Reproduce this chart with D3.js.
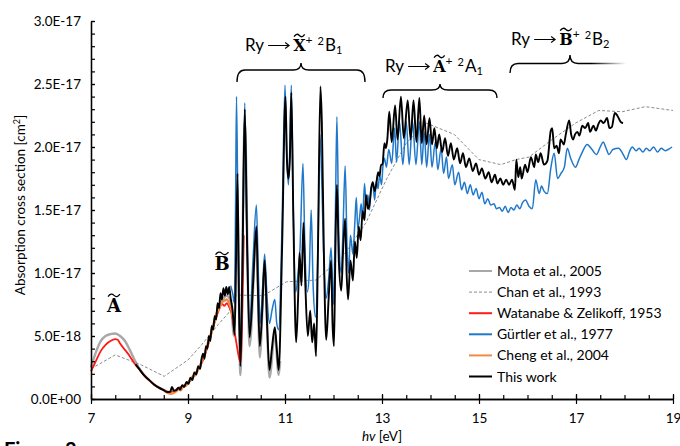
<!DOCTYPE html>
<html>
<head>
<meta charset="utf-8">
<script src="https://cdn.jsdelivr.net/npm/d3@7"></script>
<style>
body { margin: 0; background: #fff; }
svg text { fill: #000; }
</style>
</head>
<body>
<div id="chart"></div>
<script>

/*
Cross sections in units of 1e-18 cm^2, photon energy in eV
*/
var motaData = [[7.0,2.5],[7.1,3.7],[7.2,4.6],[7.3,5.0],[7.4,5.15],[7.5,5.2],[7.6,5.0],[7.7,4.6],[7.8,3.9],[7.9,3.1],[8.0,2.4],[8.1,1.9],[8.2,1.5],[8.3,1.15],[8.4,0.9],[8.5,0.7],[8.6,0.55],[8.7,0.6],[8.8,0.85],[8.9,1.0],[9.0,1.3],[9.1,1.7],[9.2,2.3],[9.3,3.1],[9.4,4.2],[9.5,5.5],[9.6,6.9],[9.7,7.8],[9.8,8.2],[9.88,7.7],[9.95,5.0],[10.02,15.0],[10.08,1.9],[10.17,22.0],[10.27,4.2],[10.41,13.0],[10.48,3.3],[10.58,10.4],[10.68,1.7],[10.79,5.2],[10.87,1.9],[10.9,3.0]];

var chanData = [[7.0,2.4],[7.5,3.5],[8.04,2.7],[8.51,1.8],[9.0,3.1],[9.28,4.3],[9.62,5.9],[9.83,6.8],[9.97,8.25],[10.55,8.2],[11.03,9.3],[11.64,9.44],[12.19,11.3],[12.67,14.0],[13.1,17.5],[13.5,20.3],[13.91,21.9],[14.49,21.0],[15.0,19.0],[15.45,18.6],[15.76,19.0],[16.03,19.2],[16.51,20.6],[16.99,21.9],[17.47,22.9],[17.95,22.8],[18.43,23.2],[19.0,22.9]];

var watanabeData = [[7.0,2.2],[7.1,3.0],[7.2,3.8],[7.3,4.3],[7.4,4.6],[7.5,4.75],[7.55,4.7],[7.6,4.4],[7.7,3.9],[7.8,3.4],[7.9,2.8],[8.0,2.35],[8.1,1.85],[8.2,1.5],[8.3,1.15],[8.4,0.9],[8.5,0.7],[8.6,0.55],[8.7,0.6],[8.8,0.85],[8.9,1.0],[9.0,1.3],[9.1,1.75],[9.2,2.3],[9.3,3.0],[9.4,4.1],[9.5,5.5],[9.6,6.7],[9.65,7.2],[9.7,7.55],[9.75,7.4],[9.8,7.6],[9.85,7.3],[9.9,6.8],[9.95,5.6],[10.0,4.4],[10.05,3.3],[10.09,2.9],[10.12,7.0],[10.15,13.0]];

var gurtlerData = [[9.88,9.0],[9.92,8.4],[9.96,7.6],[9.98,15.0],[10.0,24.0],[10.03,14.0],[10.06,6.0],[10.09,4.5],[10.13,12.0],[10.17,23.5],[10.22,12.0],[10.27,6.0],[10.34,11.0],[10.41,15.4],[10.45,10.0],[10.49,6.0],[10.54,9.0],[10.58,11.5],[10.63,8.0],[10.68,6.0],[10.73,7.0],[10.79,7.9],[10.83,6.0],[10.87,5.5],[10.94,14.0],[11.0,24.9],[11.04,19.0],[11.07,17.0],[11.1,20.0],[11.13,24.9],[11.17,15.0],[11.22,8.5],[11.27,10.0],[11.31,12.0],[11.37,18.7],[11.41,12.0],[11.46,8.5],[11.5,10.0],[11.54,15.0],[11.58,9.0],[11.63,6.5],[11.68,12.0],[11.72,21.0],[11.76,17.0],[11.8,11.0],[11.85,8.0],[11.9,9.5],[11.95,12.0],[12.0,7.5],[12.04,15.0],[12.07,22.4],[12.11,13.0],[12.16,10.0],[12.2,14.0],[12.24,18.5],[12.28,12.0],[12.31,10.0],[12.35,13.0],[12.4,11.5],[12.44,14.0],[12.47,16.0],[12.5,13.5],[12.54,14.5],[12.57,15.5],[12.6,14.3],[12.64,17.1],[12.67,15.5],[12.71,16.2],[12.74,15.0],[12.78,16.8],[12.81,17.0],[12.85,15.8],[12.88,17.3],[12.92,16.7],[12.95,17.8],[12.99,17.0],[13.02,18.5],[13.05,19.1],[13.09,18.4],[13.14,19.8],[13.2,18.7],[13.26,21.5],[13.3,18.8],[13.36,22.0],[13.43,18.6],[13.5,22.0],[13.56,18.6],[13.63,22.0],[13.7,18.6],[13.77,22.0],[13.82,18.6],[13.87,21.2],[13.92,18.4],[13.98,21.0],[14.03,18.4],[14.1,20.4],[14.15,18.2],[14.22,19.9],[14.27,17.9],[14.33,19.2],[14.37,17.5],[14.45,18.6],[14.5,17.0],[14.58,18.0],[14.64,16.6],[14.7,17.2],[14.76,16.3],[14.82,17.0],[14.88,16.2],[14.94,16.7],[15.0,15.9],[15.06,16.4],[15.12,15.5],[15.18,15.9],[15.24,15.4],[15.31,15.5],[15.36,15.1],[15.42,15.2],[15.48,14.9],[15.54,15.3],[15.6,14.8],[15.66,15.2],[15.72,15.0],[15.78,15.4],[15.84,15.1],[15.9,15.6],[15.96,15.8],[16.03,15.3],[16.1,15.1],[16.17,17.4],[16.24,16.3],[16.29,16.9],[16.34,16.5],[16.41,16.3],[16.48,18.3],[16.55,19.5],[16.62,17.5],[16.69,17.9],[16.76,18.4],[16.82,19.9],[16.89,19.1],[16.99,18.4],[17.06,19.0],[17.13,19.6],[17.23,20.2],[17.33,19.8],[17.42,19.4],[17.5,20.0],[17.56,20.4],[17.62,19.9],[17.68,19.4],[17.76,19.8],[17.88,19.9],[17.96,19.5],[18.04,19.0],[18.1,19.6],[18.16,20.0],[18.24,19.7],[18.3,19.9],[18.38,19.6],[18.45,19.9],[18.52,19.7],[18.6,20.0],[18.68,19.6],[18.76,19.9],[18.84,19.7],[18.9,19.8],[18.98,20.0]];

var chengData = [[8.5,0.75],[8.55,0.55],[8.6,0.45],[8.65,0.42],[8.7,0.5],[8.75,0.6],[8.8,0.78],[8.85,0.7],[8.9,1.0],[8.95,1.05],[9.0,1.3],[9.05,1.5],[9.1,1.8],[9.15,1.9],[9.2,2.3],[9.25,2.6],[9.3,3.2],[9.35,3.6],[9.4,4.3],[9.45,4.8],[9.5,5.6],[9.55,6.2],[9.6,6.9],[9.65,7.3],[9.7,7.7],[9.75,7.8],[9.8,7.9],[9.85,7.6],[9.9,7.0],[9.95,6.0]];

var thisWorkData = [[7.92,2.75],[8.0,2.35],[8.1,1.85],[8.2,1.5],[8.3,1.15],[8.4,0.9],[8.5,0.7],[8.58,0.55],[8.63,0.55],[8.67,0.95],[8.71,0.65],[8.76,0.7],[8.8,0.9],[8.84,0.75],[8.88,1.1],[8.92,0.95],[8.97,1.35],[9.01,1.2],[9.05,1.7],[9.09,1.5],[9.13,2.1],[9.17,1.95],[9.21,2.6],[9.25,2.4],[9.28,3.2],[9.31,3.6],[9.34,3.2],[9.37,4.2],[9.40,4.0],[9.43,5.0],[9.46,4.6],[9.49,5.8],[9.52,5.5],[9.55,6.6],[9.58,6.3],[9.61,7.6],[9.64,7.2],[9.67,8.4],[9.70,7.9],[9.73,8.8],[9.76,8.2],[9.79,8.9],[9.82,8.3],[9.85,8.9],[9.88,8.0],[9.92,7.0],[9.96,5.1],[9.99,11.0],[10.02,17.9],[10.05,8.0],[10.08,2.6],[10.12,10.0],[10.17,23.0],[10.22,12.0],[10.27,4.9],[10.34,9.0],[10.41,13.7],[10.44,9.0],[10.48,4.2],[10.53,7.0],[10.58,11.0],[10.63,6.0],[10.68,2.3],[10.73,4.0],[10.79,5.7],[10.83,4.0],[10.87,2.3],[10.94,12.0],[11.01,24.0],[11.04,19.0],[11.07,17.5],[11.1,19.0],[11.13,24.3],[11.17,15.0],[11.23,4.5],[11.27,8.0],[11.3,11.6],[11.34,9.0],[11.38,14.0],[11.42,9.0],[11.47,5.0],[11.52,7.0],[11.56,4.5],[11.6,6.0],[11.64,3.4],[11.68,12.0],[11.73,24.8],[11.76,21.9],[11.8,12.0],[11.85,4.7],[11.9,8.0],[11.95,11.0],[11.98,6.0],[12.01,4.2],[12.04,12.0],[12.07,17.0],[12.11,11.0],[12.16,8.6],[12.2,12.0],[12.24,14.3],[12.27,10.0],[12.3,7.9],[12.35,11.0],[12.4,9.4],[12.44,12.5],[12.48,11.2],[12.52,13.7],[12.56,12.6],[12.6,14.9],[12.64,14.2],[12.67,16.2],[12.71,15.1],[12.74,15.4],[12.78,16.8],[12.81,17.2],[12.85,16.5],[12.88,17.0],[12.92,18.0],[12.95,17.7],[12.98,18.6],[13.01,18.6],[13.05,20.3],[13.08,19.9],[13.11,20.6],[13.15,22.8],[13.2,20.4],[13.27,23.3],[13.32,20.6],[13.39,24.0],[13.45,20.7],[13.53,23.7],[13.59,20.6],[13.65,23.7],[13.71,20.4],[13.77,23.9],[13.82,20.3],[13.87,22.5],[13.92,20.2],[13.98,22.3],[14.03,20.2],[14.08,21.5],[14.13,19.9],[14.18,21.0],[14.24,19.6],[14.3,20.7],[14.36,19.3],[14.42,20.3],[14.48,19.0],[14.55,19.9],[14.61,18.7],[14.67,19.5],[14.73,18.4],[14.8,19.1],[14.87,18.1],[14.94,18.7],[15.0,17.8],[15.06,18.3],[15.13,17.5],[15.2,18.0],[15.26,17.2],[15.33,17.8],[15.38,17.1],[15.44,17.5],[15.5,17.0],[15.56,17.4],[15.62,17.0],[15.68,17.4],[15.74,16.6],[15.77,19.0],[15.81,17.6],[15.85,18.4],[15.88,17.5],[15.95,18.6],[16.0,18.0],[16.07,19.2],[16.14,18.4],[16.17,19.4],[16.22,18.8],[16.27,19.5],[16.34,18.6],[16.41,18.9],[16.48,21.3],[16.51,21.5],[16.55,19.9],[16.6,20.1],[16.65,19.5],[16.68,20.6],[16.75,20.2],[16.79,21.0],[16.86,22.1],[16.9,21.0],[16.94,20.6],[16.98,21.0],[17.03,21.2],[17.07,20.9],[17.13,21.7],[17.19,21.5],[17.25,21.9],[17.29,21.2],[17.36,21.7],[17.41,21.3],[17.46,21.8],[17.51,22.1],[17.57,21.9],[17.64,22.3],[17.69,21.5],[17.74,21.6],[17.8,22.7],[17.85,22.5],[17.92,22.0],[17.97,21.9]];

/*
Axis ticks and labels
*/
var xTicks = [7, 9, 11, 13, 15, 17, 19];
var xMinorTicks = d3.range(7, 19.01, 0.5);
var yTicks = [0, 5, 10, 15, 20, 25, 30];
var yTickLabels = ["0.0E+00", "5.0E-18", "1.0E-17", "1.5E-17", "2.0E-17", "2.5E-17", "3.0E-17"];
var yMinorTicks = d3.range(0, 30.01, 1);

/*
Legend
*/
var seriesNames = ["Mota et al., 2005", "Chan et al., 1993", "Watanabe & Zelikoff, 1953", "Gürtler et al., 1977", "Cheng et al., 2004", "This work"];
var seriesData = [motaData, chanData, watanabeData, gurtlerData, chengData, thisWorkData];
var seriesColors = ["#a8a8a8", "#8a8a8a", "#ff1a1a", "#1f78c9", "#f28a45", "#000000"];
var seriesWidths = [2.4, 1, 1.8, 1.5, 2.6, 1.9];
var seriesDash = [null, "3,2", null, null, null, null];

var sans = "Lato, 'Open Sans', sans-serif";
var serif = "'DejaVu Serif', 'Liberation Serif', serif";

var svg = d3.select("#chart").append("svg")
	.attr("width", 680)
	.attr("height", 446)
	.style("font-family", sans);

var xScale = d3.scaleLinear().domain([7, 19]).range([91, 673]);
var yScale = d3.scaleLinear().domain([0, 30]).range([399, 21]);

/*
Curves
*/
var line = d3.line()
	.x(function(d) { return xScale(d[0]); })
	.y(function(d) { return yScale(d[1]); })
	.curve(d3.curveMonotoneX);

var lineStraight = d3.line()
	.x(function(d) { return xScale(d[0]); })
	.y(function(d) { return yScale(d[1]); });

seriesData.forEach(function(data, i) {
	svg.append("path")
		.datum(data)
		.attr("fill", "none")
		.attr("stroke", seriesColors[i])
		.attr("stroke-width", seriesWidths[i])
		.attr("stroke-dasharray", seriesDash[i])
		.attr("stroke-linejoin", "round")
		.attr("d", i == 1 ? lineStraight : line);
});

/*
Axes
*/
function styleAxis(g) {
	g.select(".domain").attr("stroke", "#000").attr("stroke-width", 1.3);
	g.selectAll(".tick line").attr("stroke", "#000").attr("stroke-width", 1.2);
	g.attr("font-family", sans).attr("font-size", 13.5);
}

svg.append("g")
	.attr("transform", "translate(0,399)")
	.call(d3.axisBottom(xScale).tickValues(xMinorTicks).tickSize(-4).tickSizeOuter(0).tickFormat(""))
	.call(styleAxis);

var gX = svg.append("g")
	.attr("transform", "translate(0,399)")
	.call(d3.axisBottom(xScale).tickValues(xTicks).tickSize(5).tickSizeOuter(0))
	.call(styleAxis);
gX.selectAll(".tick line").attr("y1", -5);
gX.selectAll(".tick text").attr("y", 14);

svg.append("g")
	.attr("transform", "translate(91,0)")
	.call(d3.axisLeft(yScale).tickValues(yMinorTicks).tickSize(-4).tickSizeOuter(0).tickFormat(""))
	.call(styleAxis);

var gY = svg.append("g")
	.attr("transform", "translate(91,0)")
	.call(d3.axisLeft(yScale).tickValues(yTicks).tickSize(4).tickSizeOuter(0)
		.tickFormat(function(d, i) { return yTickLabels[i]; }))
	.call(styleAxis);
gY.selectAll(".tick line").attr("x2", 4);
gY.selectAll(".tick text").attr("x", -10);

// Axis labels
var yLabel = svg.append("text")
	.attr("transform", "translate(25,205) rotate(-90)")
	.attr("text-anchor", "middle")
	.attr("font-size", 13.5);
yLabel.append("tspan").text("Absorption cross section [cm");
yLabel.append("tspan").attr("dy", -5).attr("font-size", 9).text("2");
yLabel.append("tspan").attr("dy", 5).text("]");

var xLabel = svg.append("text")
	.attr("x", 382)
	.attr("y", 441)
	.attr("text-anchor", "middle")
	.attr("font-size", 13.5);
xLabel.append("tspan").attr("font-style", "italic").text("hv");
xLabel.append("tspan").text(" [eV]");

// caption, cut off at the bottom edge as in the source
svg.append("text")
	.attr("x", 4)
	.attr("y", 457)
	.attr("font-size", 20)
	.attr("font-weight", "bold")
	.text("Figure 2");

/*
Legend
*/
var legend = svg.append("g").attr("transform", "translate(469,271)");
seriesNames.forEach(function(name, i) {
	var row = legend.append("g").attr("transform", "translate(0," + (i * 21.1) + ")");
	row.append("line")
		.attr("x1", 0).attr("x2", 23)
		.attr("stroke", seriesColors[i])
		.attr("stroke-width", i == 1 ? 1 : 2)
		.attr("stroke-dasharray", seriesDash[i]);
	row.append("text")
		.attr("x", 28)
		.attr("y", 5)
		.attr("font-size", 14)
		.text(name);
});

/*
Annotations
*/
function drawTilde(cx, ty, w) {
	var x1 = cx - w / 2, x2 = cx + w / 2;
	svg.append("path")
		.attr("d", "M" + x1 + "," + (ty + 1.2) +
			"Q" + (x1 + w / 4) + "," + (ty - 3) + " " + cx + "," + ty +
			"Q" + (x1 + 3 * w / 4) + "," + (ty + 3) + " " + x2 + "," + (ty - 1.2))
		.attr("fill", "none")
		.attr("stroke", "#000")
		.attr("stroke-width", 1.3);
}

function stateLetter(cx, baseline, letter, size) {
	var t = svg.append("text")
		.attr("x", cx).attr("y", baseline)
		.attr("text-anchor", "middle")
		.style("font-family", serif)
		.attr("font-weight", "bold")
		.attr("font-size", size)
		.text(letter);
	var w = t.node().getComputedTextLength();
	drawTilde(cx, baseline - size * 0.73 - 3.5, w * 0.85);
}

function transitionLabel(x0, baseline, letter, term, sub) {
	var cx = x0;
	function piece(text, size, dy, family, bold) {
		var t = svg.append("text")
			.attr("x", cx).attr("y", baseline + dy)
			.attr("font-size", size)
			.text(text);
		if (family) t.style("font-family", family);
		if (bold) t.attr("font-weight", "bold");
		var w = t.node().getComputedTextLength();
		cx += w;
		return w;
	}
	piece("Ry", 17, 0);
	// long arrow
	var ay = baseline - 5.5;
	svg.append("path")
		.attr("d", "M" + (cx + 4) + "," + ay + "H" + (cx + 25) +
			"M" + (cx + 21) + "," + (ay - 3) + "L" + (cx + 25) + "," + ay + "L" + (cx + 21) + "," + (ay + 3))
		.attr("fill", "none")
		.attr("stroke", "#000")
		.attr("stroke-width", 1.1);
	cx += 29;
	var start = cx;
	var w = piece(letter, 16, 0, serif, true);
	drawTilde(start + w / 2, baseline - 15.5, w * 0.85);
	piece("+", 12, -7);
	cx += 5;
	piece("2", 11, -6);
	cx += 1;
	piece(term, 17, 0);
	piece(sub, 11, 3);
}

function brace(x1, x2, xm, yEnd, yH, yTip) {
	var r = 8;
	svg.append("path")
		.attr("d", "M" + x1 + "," + yEnd +
			"Q" + x1 + "," + yH + " " + (x1 + r) + "," + yH +
			"L" + (xm - r) + "," + yH +
			"Q" + xm + "," + yH + " " + xm + "," + yTip +
			"Q" + xm + "," + yH + " " + (xm + r) + "," + yH +
			"L" + (x2 - r) + "," + yH +
			"Q" + x2 + "," + yH + " " + x2 + "," + yEnd)
		.attr("fill", "none")
		.attr("stroke", "#000")
		.attr("stroke-width", 1.4);
}

transitionLabel(245, 51, "X", "B", "1");
brace(237, 365, 301, 82, 70, 63);

transitionLabel(385, 72, "A", "A", "1");
brace(383, 497, 440, 98, 90, 84);

transitionLabel(511, 45, "B", "B", "2");

// third brace fades out on the right
var grad = svg.append("defs").append("linearGradient")
	.attr("id", "fade")
	.attr("gradientUnits", "userSpaceOnUse")
	.attr("x1", 510).attr("x2", 626).attr("y1", 0).attr("y2", 0);
grad.append("stop").attr("offset", "0.7").attr("stop-color", "#000");
grad.append("stop").attr("offset", "1").attr("stop-color", "#fff");
svg.append("path")
	.attr("d", "M510,73Q510,63.5 518,63.5L562,63.5Q570,63.5 570,55Q570,63.5 578,63.5L626,63.5")
	.attr("fill", "none")
	.attr("stroke", "url(#fade)")
	.attr("stroke-width", 1.4);

stateLetter(114, 312, "A", 18);
stateLetter(222, 270, "B", 18);

</script>
</body>
</html>
